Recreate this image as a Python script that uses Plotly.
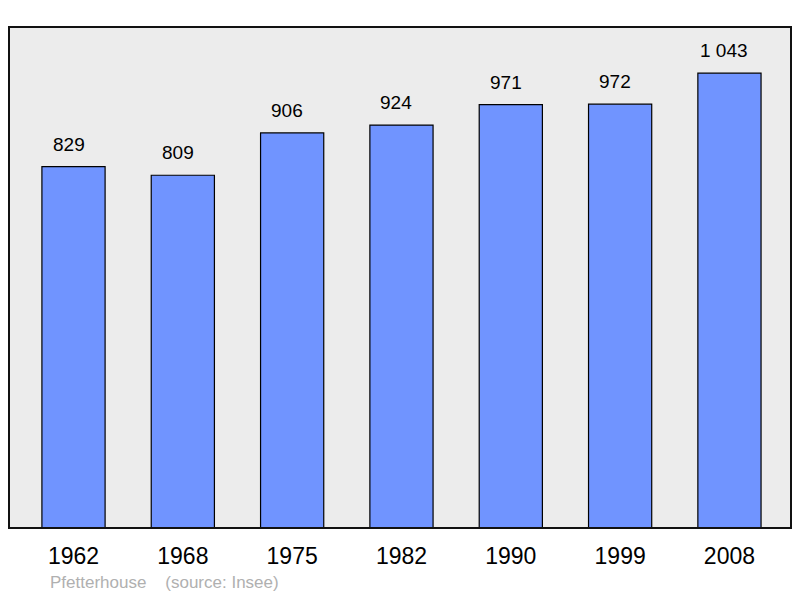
import plotly.graph_objects as go

years = ["1962", "1968", "1975", "1982", "1990", "1999", "2008"]
population = [829, 809, 906, 924, 971, 972, 1043]
value_labels = ["829", "809", "906", "924", "971", "972", "1 043"]
commune = "Pfetterhouse"
source = "(source: Insee)"

FONT = "Liberation Sans, Arial, sans-serif"

fig = go.Figure()
fig.add_trace(go.Bar(
    x=list(range(len(years))), y=population,
    width=0.578,
    marker=dict(color="#7094ff", line=dict(color="#000000", width=1.2)),
    hoverinfo="skip",
))

for i, (v, lab) in enumerate(zip(population, value_labels)):
    fig.add_annotation(x=i, y=v, text=lab, showarrow=False, yanchor="bottom",
                       yshift=10, xshift=-5, font=dict(size=19, color="#000000", family=FONT))

fig.add_annotation(xref="paper", yref="paper", x=0.05, y=-0.086, xanchor="left", yanchor="top",
                   text=commune + "&nbsp;&nbsp;&nbsp;&nbsp;" + source, showarrow=False,
                   font=dict(size=17, color="#b0b0b0", family=FONT))

fig.add_shape(type="rect", xref="paper", yref="paper", x0=0, y0=0, x1=1, y1=1,
              line=dict(color="#111111", width=2), layer="above")

fig.update_layout(
    width=792, height=590,
    margin=dict(l=1, r=9, t=19, b=70),
    paper_bgcolor="#ffffff", plot_bgcolor="#ececec",
    showlegend=False,
    xaxis=dict(range=[-0.59, 6.563], tickmode="array", tickvals=list(range(len(years))),
               ticktext=years, showgrid=False, zeroline=False, ticks="",
               ticklabelstandoff=12,
               tickfont=dict(size=23, color="#000000", family=FONT)),
    yaxis=dict(range=[0, 1149], showgrid=False, zeroline=False, showticklabels=False, ticks=""),
    font=dict(family=FONT),
)

fig.write_html("out.html")
